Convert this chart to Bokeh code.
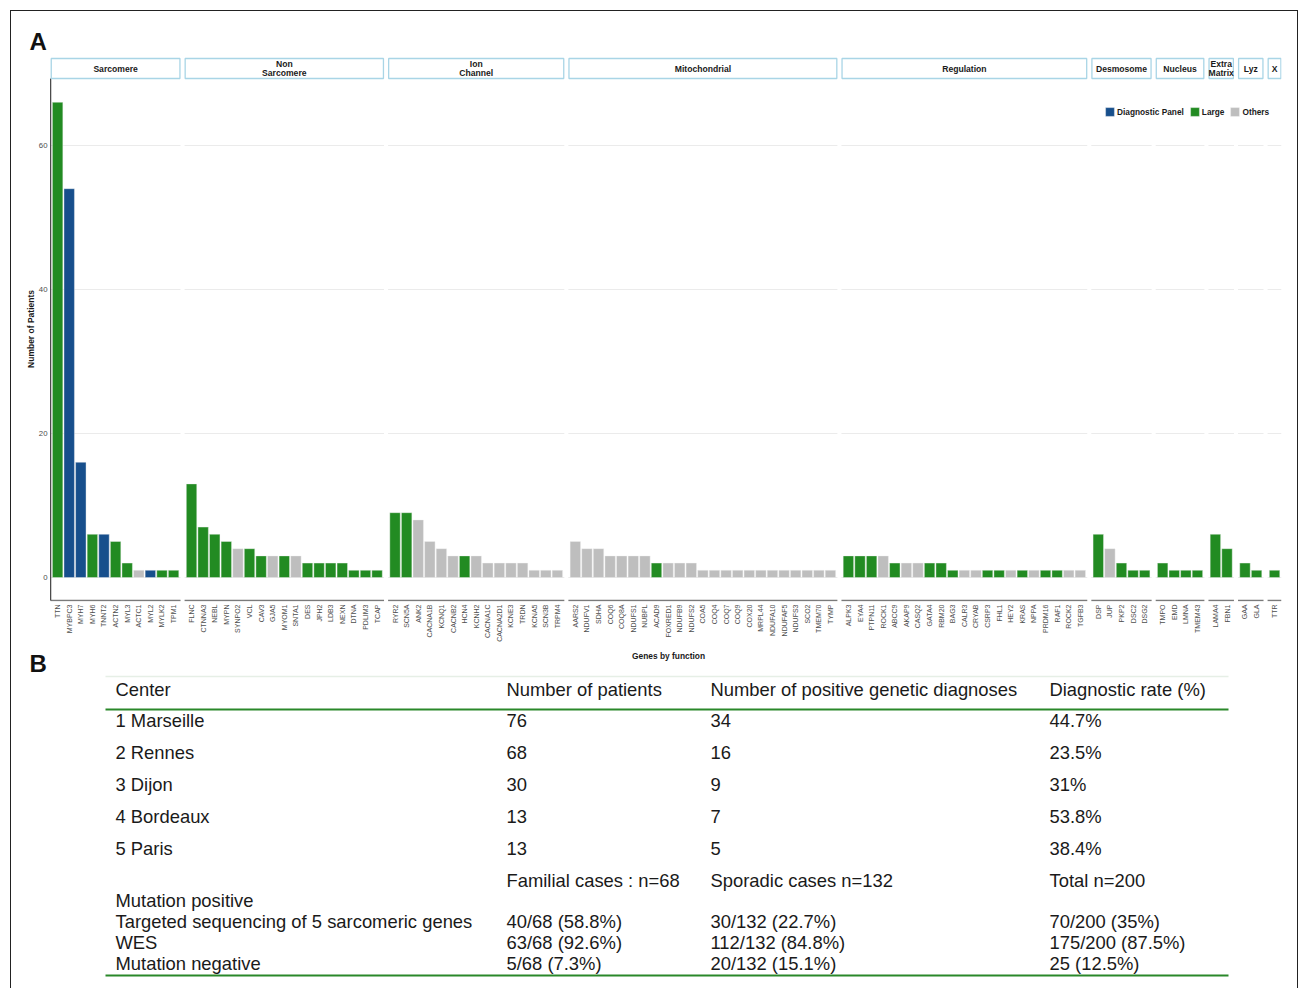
import math
from bokeh.plotting import figure
from bokeh.models import ColumnDataSource, FixedTicker, Legend, LegendItem, Range1d
from bokeh.layouts import column
from bokeh.embed import file_html
from bokeh.resources import INLINE
from bokeh.core.properties import value

FONT = "Liberation Sans"

# ---------------- data: panel A ----------------
functions = ["Sarcomere", "Non\nSarcomere", "Ion\nChannel", "Mitochondrial", "Regulation",
             "Desmosome", "Nucleus", "Extra\nMatrix", "Lyz", "X"]

sarcomere_genes = ["TTN", "MYBPC3", "MYH7", "MYH6", "TNNT2", "ACTN2", "MYL3", "ACTC1", "MYL2", "MYLK2", "TPM1"]
sarcomere_counts = [66, 54, 16, 6, 6, 5, 2, 1, 1, 1, 1]
sarcomere_class = ["L", "D", "D", "L", "D", "L", "L", "O", "D", "L", "L"]

nonsarc_genes = ["FLNC", "CTNNA3", "NEBL", "MYPN", "SYNPO2", "VCL", "CAV3", "GJA5", "MYOM1", "SNTA1",
                 "DES", "JPH2", "LDB3", "NEXN", "DTNA", "PDLIM3", "TCAP"]
nonsarc_counts = [13, 7, 6, 5, 4, 4, 3, 3, 3, 3, 2, 2, 2, 2, 1, 1, 1]
nonsarc_class = ["L", "L", "L", "L", "O", "L", "L", "O", "L", "O", "L", "L", "L", "L", "L", "L", "L"]

ion_genes = ["RYR2", "SCN5A", "ANK2", "CACNA1B", "KCNQ1", "CACNB2", "HCN4", "KCNH2", "CACNA1C",
             "CACNA2D1", "KCNE3", "TRDN", "KCNA5", "SCN3B", "TRPM4"]
ion_counts = [9, 9, 8, 5, 4, 3, 3, 3, 2, 2, 2, 2, 1, 1, 1]
ion_class = ["L", "L", "O", "O", "O", "O", "L", "O", "O", "O", "O", "O", "O", "O", "O"]

mito_genes = ["AARS2", "NDUFV1", "SDHA", "COQ6", "COQ8A", "NDUFS1", "NUBPL", "ACAD9", "FOXRED1",
              "NDUFB9", "NDUFS2", "COA5", "COQ4", "COQ7", "COQ9", "COX20", "MRPL44", "NDUFA10",
              "NDUFAF5", "NDUFS3", "SCO2", "TMEM70", "TYMP"]
mito_counts = [5, 4, 4, 3, 3, 3, 3, 2, 2, 2, 2, 1, 1, 1, 1, 1, 1, 1, 1, 1, 1, 1, 1]
mito_class = ["O", "O", "O", "O", "O", "O", "O", "L", "O", "O", "O", "O", "O", "O", "O", "O",
              "O", "O", "O", "O", "O", "O", "O"]

reg_genes = ["ALPK3", "EYA4", "PTPN11", "ROCK1", "ABCC9", "AKAP9", "CASQ2", "GATA4", "RBM20", "BAG3",
             "CALR3", "CRYAB", "CSRP3", "FHL1", "HEY2", "KRAS", "NPPA", "PRDM16", "RAF1", "ROCK2", "TGFB3"]
reg_counts = [3, 3, 3, 3, 2, 2, 2, 2, 2, 1, 1, 1, 1, 1, 1, 1, 1, 1, 1, 1, 1]
reg_class = ["L", "L", "L", "O", "L", "O", "O", "L", "L", "L", "O", "O", "L", "L", "O", "L", "O",
             "L", "L", "O", "O"]

desmo_genes = ["DSP", "JUP", "PKP2", "DSC2", "DSG2"]
desmo_counts = [6, 4, 2, 1, 1]
desmo_class = ["L", "O", "L", "L", "L"]

nucleus_genes = ["TMPO", "EMD", "LMNA", "TMEM43"]
nucleus_counts = [2, 1, 1, 1]
nucleus_class = ["L", "L", "L", "L"]

matrix_genes = ["LAMA4", "FBN1"]
matrix_counts = [6, 4]
matrix_class = ["L", "L"]

lyz_genes = ["GAA", "GLA"]
lyz_counts = [2, 1]
lyz_class = ["L", "L"]

x_genes = ["TTR"]
x_counts = [1]
x_class = ["L"]

class_names = {"D": "Diagnostic Panel", "L": "Large", "O": "Others"}
class_colors = {"D": "#174f8c", "L": "#228b22", "O": "#bebebe"}
y_ticks = [0, 20, 40, 60]
x_title = "Genes by function"
y_title = "Number of Patients"

# ---------------- data: panel B ----------------
table_header = ["Center", "Number of patients", "Number of positive genetic diagnoses", "Diagnostic rate (%)"]
centers = ["1 Marseille", "2 Rennes", "3 Dijon", "4 Bordeaux", "5 Paris"]
patients = ["76", "68", "30", "13", "13"]
positives = ["34", "16", "9", "7", "5"]
rates = ["44.7%", "23.5%", "31%", "53.8%", "38.4%"]
cohort_header = ["Familial cases : n=68", "Sporadic cases n=132", "Total n=200"]
mutation_title = "Mutation positive"
mutation_rows = ["Targeted sequencing of 5 sarcomeric genes", "WES", "Mutation negative"]
familial = ["40/68 (58.8%)", "63/68 (92.6%)", "5/68 (7.3%)"]
sporadic = ["30/132 (22.7%)", "112/132 (84.8%)", "20/132 (15.1%)"]
total = ["70/200 (35%)", "175/200 (87.5%)", "25 (12.5%)"]

groups = [
    (sarcomere_genes, sarcomere_counts, sarcomere_class),
    (nonsarc_genes, nonsarc_counts, nonsarc_class),
    (ion_genes, ion_counts, ion_class),
    (mito_genes, mito_counts, mito_class),
    (reg_genes, reg_counts, reg_class),
    (desmo_genes, desmo_counts, desmo_class),
    (nucleus_genes, nucleus_counts, nucleus_class),
    (matrix_genes, matrix_counts, matrix_class),
    (lyz_genes, lyz_counts, lyz_class),
    (x_genes, x_counts, x_class),
]

# ---------------- layout of facets (units) ----------------
UNIT, EXP, GAP = 20, 12, 7
xs, tops, cls, names = [], [], [], []
edges = []
left = 0
for genes, counts, klass in groups:
    n = len(genes)
    for j in range(n):
        xs.append(left + EXP + UNIT * j)
        tops.append(counts[j])
        cls.append(klass[j])
        names.append(genes[j])
    right = left + 2 * EXP + UNIT * (n - 1)
    edges.append((left, right))
    left = right + GAP
x_end = edges[-1][1]

# page geometry
O = 11                     # content origin (margin 10 + border 1)
W = 1286
PX_UNIT = 7.2
Y0 = 577.0                 # page y of value 0
FRAME_TOP, FRAME_BOT = 56.0, 601.0
FRAME_L, FRAME_R = 49, 1281
y_start = -(FRAME_BOT - Y0) / PX_UNIT
y_end = (Y0 - FRAME_TOP) / PX_UNIT
axis_y = -(600 - Y0) / PX_UNIT
panel_top = (Y0 - 78) / PX_UNIT
strip_top = (Y0 - 58) / PX_UNIT

HA = 637
pa = figure(width=W, height=HA, x_range=Range1d(-2, x_end), y_range=Range1d(y_start, y_end),
            toolbar_location=None, output_backend="svg",
            min_border_left=FRAME_L - O, min_border_right=O + W - FRAME_R,
            min_border_top=int(FRAME_TOP - O), min_border_bottom=int(O + HA - FRAME_BOT))
pa.frame_align = False
pa.outline_line_color = None
pa.xgrid.visible = False
pa.ygrid.visible = False
pa.background_fill_color = "white"
pa.border_fill_color = "white"

# panel gridlines
gx0, gx1, gy = [], [], []
for (l, r) in edges:
    for t in y_ticks:
        gx0.append(l); gx1.append(r); gy.append(t)
pa.segment(x0=gx0, x1=gx1, y0=gy, y1=gy, line_color="#ebebeb", line_width=1)

# bars
renderers = {}
for c in ["D", "L", "O"]:
    src = ColumnDataSource(dict(
        x=[xs[i] for i in range(len(xs)) if cls[i] == c],
        top=[tops[i] for i in range(len(xs)) if cls[i] == c]))
    renderers[c] = pa.vbar(x="x", top="top", bottom=0, width=UNIT * 0.9, source=src,
                           fill_color=class_colors[c], line_color="#f2f2f2", line_width=0.4)

# axis lines
pa.segment(x0=[l for l, r in edges], x1=[r for l, r in edges], y0=axis_y, y1=axis_y,
           line_color="#7a7a7a", line_width=1.6)
pa.segment(x0=[edges[0][0]], x1=[edges[0][0]], y0=[axis_y], y1=[panel_top],
           line_color="#404040", line_width=1.2)

# facet strips
sx = [(l + r) / 2 for l, r in edges]
sw = [(r - l) - 2 for l, r in edges]
pa.rect(x=sx, y=(panel_top + strip_top) / 2, width=sw, height=strip_top - panel_top,
        fill_color="white", line_color="#a9d5e6", line_width=1.3)
pa.text(x=sx, y=(panel_top + strip_top) / 2, text=functions, text_align="center",
        text_baseline="middle", text_font=value(FONT), text_font_size="8.6px",
        text_font_style="bold", text_color="#1a1a1a", text_line_height=0.9)

# axes
pa.yaxis.ticker = FixedTicker(ticks=y_ticks, minor_ticks=[])
pa.yaxis.axis_line_color = None
pa.yaxis.major_tick_line_color = None
pa.yaxis.minor_tick_line_color = None
pa.yaxis.major_tick_out = 0
pa.yaxis.major_tick_in = 0
pa.yaxis.minor_tick_out = 0
pa.yaxis.major_label_text_font = FONT
pa.yaxis.major_label_text_font_size = "7.8px"
pa.yaxis.major_label_text_color = "#4d4d4d"
pa.yaxis.major_label_standoff = 2
pa.yaxis.axis_label = y_title
pa.yaxis.axis_label_text_font = FONT
pa.yaxis.axis_label_text_font_size = "8.5px"
pa.yaxis.axis_label_text_font_style = "bold"
pa.yaxis.axis_label_text_color = "#1a1a1a"
pa.yaxis.axis_label_standoff = 0

pa.xaxis.ticker = FixedTicker(ticks=xs, minor_ticks=[])
pa.xaxis.major_label_overrides = {x: g for x, g in zip(xs, names)}
pa.xaxis.major_label_orientation = math.pi / 2
pa.xaxis.axis_line_color = None
pa.xaxis.major_tick_line_color = None
pa.xaxis.minor_tick_line_color = None
pa.xaxis.major_tick_out = 0
pa.xaxis.major_tick_in = 0
pa.xaxis.minor_tick_out = 0
pa.xaxis.major_label_text_font = FONT
pa.xaxis.major_label_text_font_size = "7px"
pa.xaxis.major_label_text_color = "#4d4d4d"
pa.xaxis.major_label_standoff = 3

# legend
legend = Legend(items=[LegendItem(label=class_names[c], renderers=[renderers[c]]) for c in ["D", "L", "O"]],
                location=(1055, 484), orientation="horizontal",
                glyph_width=11, glyph_height=11, label_height=11, label_standoff=2, spacing=5,
                padding=0, margin=0, border_line_color=None, background_fill_alpha=0,
                label_text_font=FONT, label_text_font_size="8.3px", label_text_font_style="bold",
                label_text_color="#1a1a1a")
pa.add_layout(legend)

# panel letter A
pa.title.text = "A"
pa.title.text_font = FONT
pa.title.text_font_size = "24px"
pa.title.text_font_style = "bold"
pa.title.text_color = "#111111"
pa.title.align = "left"
pa.title.offset = -20
pa.title.standoff = 4

# ---------------- panel B: table ----------------
top_b = O + HA
HB = 340
pb = figure(width=W, height=HB, x_range=Range1d(O, O + W), y_range=Range1d(top_b + HB, top_b),
            toolbar_location=None, output_backend="svg", min_border=0,
            x_axis_location=None, y_axis_location=None)
pb.frame_align = False
pb.outline_line_color = None
pb.xgrid.visible = False
pb.ygrid.visible = False

# x-axis title of panel A (sits just under the gene labels)
pb.text(x=[(FRAME_L + FRAME_R) / 2 + 3], y=[655], text=[x_title], text_align="center",
        text_baseline="middle", text_font=value(FONT), text_font_size="8.4px",
        text_font_style="bold", text_color="#1a1a1a")

col_x = [115, 506, 710, 1049]
txt = dict(text_baseline="middle", text_font=value(FONT), text_font_size="18.4px", text_color="#1a1a1a")

pb.text(x=[29], y=[663], text=["B"], text_baseline="middle", text_font=value(FONT),
        text_font_size="24px", text_font_style="bold", text_color="#111111")

pb.segment(x0=[105], x1=[1228], y0=[676], y1=[676], line_color="#e6efe6", line_width=1.5)
pb.segment(x0=[105, 105], x1=[1228, 1228], y0=[709, 975], y1=[709, 975], line_color="#2a882a", line_width=2)

pb.text(x=col_x, y=[689] * 4, text=table_header, **txt)
row_y = [720, 752, 784, 816, 848]
for cx, column_vals in zip(col_x, [centers, patients, positives, rates]):
    pb.text(x=[cx] * len(row_y), y=row_y, text=column_vals, **txt)
pb.text(x=col_x[1:], y=[880] * 3, text=cohort_header, **txt)
pb.text(x=[col_x[0]], y=[900], text=[mutation_title], **txt)
mut_y = [921, 942, 963]
for cx, column_vals in zip(col_x, [mutation_rows, familial, sporadic, total]):
    pb.text(x=[cx] * 3, y=mut_y, text=column_vals, **txt)

layout = column(pa, pb, margin=(10, 0, 0, 10),
                styles={"border-left": "1.5px solid #222", "border-top": "1.5px solid #222",
                        "border-right": "1.5px solid #222"})

open("out.html", "w").write(file_html(layout, INLINE))
